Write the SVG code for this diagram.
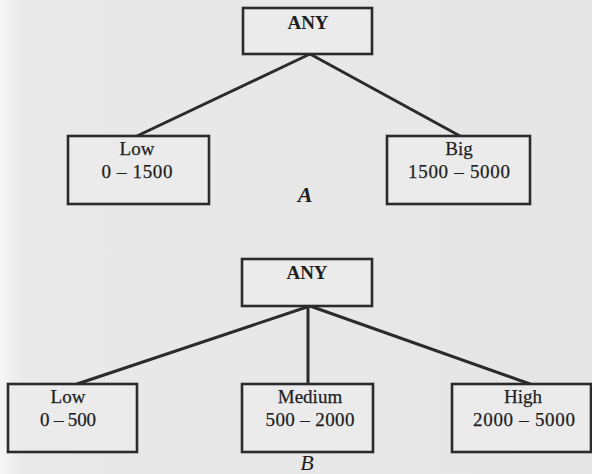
<svg xmlns="http://www.w3.org/2000/svg" width="592" height="474" viewBox="0 0 592 474">
  <defs>
    <linearGradient id="paper" x1="0" y1="0" x2="1" y2="0">
      <stop offset="0" stop-color="#f6f6f6"/>
      <stop offset="0.04" stop-color="#e9e9e9"/>
      <stop offset="1" stop-color="#e6e6e6"/>
    </linearGradient>
    <style>
      .box { fill: #ebebeb; stroke: #2b2b2b; stroke-width: 2.6; }
      .edge { stroke: #2b2b2b; stroke-width: 3; stroke-linecap: round; fill: none; }
      .lbl { font-family: "Liberation Serif", "Times New Roman", serif; font-size: 19px; fill: #1e1e1e; text-anchor: middle; stroke: #1e1e1e; stroke-width: 0.25; }
      .root { font-family: "Liberation Serif", "Times New Roman", serif; font-size: 19px; font-weight: bold; fill: #1e1e1e; text-anchor: middle; }
      .cap { font-family: "Liberation Serif", "Times New Roman", serif; font-size: 22px; font-style: italic; fill: #1e1e1e; text-anchor: middle; }
      .cap-bold { font-weight: bold; }
    </style>
  </defs>

  <rect x="0" y="0" width="592" height="474" fill="url(#paper)"/>

  <!-- connectors -->
  <g id="connectors">
    <line class="edge" x1="310" y1="54" x2="137" y2="136"/>
    <line class="edge" x1="310" y1="54" x2="460" y2="136"/>
    <line class="edge" x1="310" y1="306" x2="77" y2="384"/>
    <line class="edge" x1="308" y1="306" x2="308" y2="384"/>
    <line class="edge" x1="310" y1="306" x2="530" y2="384"/>
  </g>

  <!-- hierarchy A -->
  <g id="a-any">
    <rect class="box" x="243" y="8" width="129" height="46"/>
    <text class="root" x="308" y="29">ANY</text>
  </g>
  <g id="a-low">
    <rect class="box" x="68" y="136" width="141" height="68"/>
    <text class="lbl" x="137" y="155">Low</text>
    <text class="lbl" x="137" y="178" textLength="71" lengthAdjust="spacing">0 – 1500</text>
  </g>
  <g id="a-big">
    <rect class="box" x="387" y="136" width="143" height="68"/>
    <text class="lbl" x="459" y="155">Big</text>
    <text class="lbl" x="459" y="178" textLength="102" lengthAdjust="spacing">1500 – 5000</text>
  </g>
  <text class="cap cap-bold" x="305" y="202">A</text>

  <!-- hierarchy B -->
  <g id="b-any">
    <rect class="box" x="242" y="259" width="130" height="47"/>
    <text class="root" x="307" y="279">ANY</text>
  </g>
  <g id="b-low">
    <rect class="box" x="8" y="384" width="129" height="68"/>
    <text class="lbl" x="68" y="403">Low</text>
    <text class="lbl" x="68" y="426" textLength="56" lengthAdjust="spacing">0 – 500</text>
  </g>
  <g id="b-medium">
    <rect class="box" x="242" y="384" width="131" height="68"/>
    <text class="lbl" x="310" y="403">Medium</text>
    <text class="lbl" x="310" y="426" textLength="89" lengthAdjust="spacing">500 – 2000</text>
  </g>
  <g id="b-high">
    <rect class="box" x="452" y="384" width="139" height="68"/>
    <text class="lbl" x="523" y="403">High</text>
    <text class="lbl" x="524" y="426" textLength="102" lengthAdjust="spacing">2000 – 5000</text>
  </g>
  <text class="cap" x="307" y="470">B</text>
</svg>
